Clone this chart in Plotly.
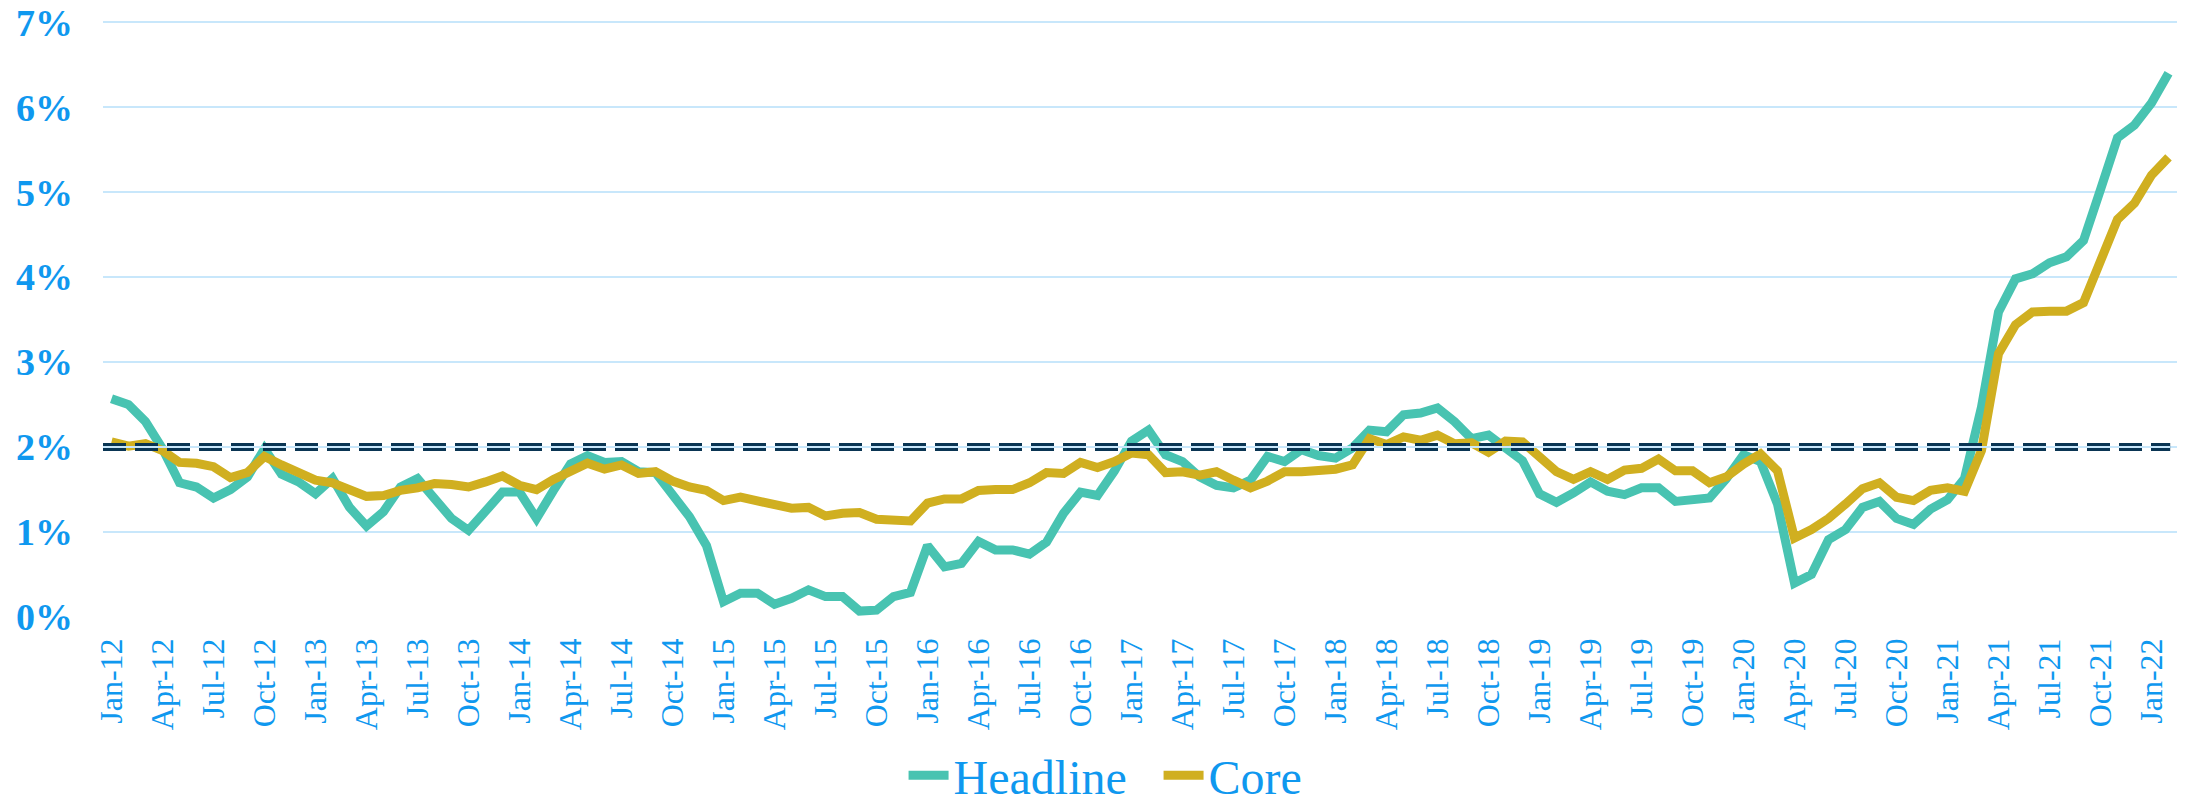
import pandas as pd
import plotly.graph_objects as go

months = [d.strftime("%b-%y") for d in pd.date_range("2012-01-01", "2022-02-01", freq="MS")]
tick_labels = months[::3]

headline = [2.57, 2.50, 2.30, 1.98, 1.58, 1.53, 1.40, 1.50, 1.65, 1.98, 1.68, 1.59,
            1.45, 1.63, 1.29, 1.07, 1.24, 1.53, 1.63, 1.41, 1.16, 1.02, 1.26, 1.47,
            1.47, 1.16, 1.49, 1.80, 1.90, 1.82, 1.83, 1.71, 1.70, 1.45, 1.18, 0.84,
            0.18, 0.28, 0.28, 0.15, 0.22, 0.32, 0.24, 0.24, 0.07, 0.08, 0.24, 0.29,
            0.84, 0.59, 0.63, 0.89, 0.79, 0.79, 0.74, 0.88, 1.22, 1.47, 1.43, 1.72,
            2.07, 2.20, 1.91, 1.83, 1.65, 1.55, 1.52, 1.61, 1.89, 1.83, 1.97, 1.90,
            1.87, 1.99, 2.20, 2.18, 2.38, 2.40, 2.46, 2.30, 2.10, 2.14, 2.00, 1.84,
            1.45, 1.35, 1.46, 1.59, 1.48, 1.44, 1.52, 1.52, 1.36, 1.39, 1.40, 1.63,
            1.91, 1.83, 1.33, 0.40, 0.50, 0.91, 1.03, 1.29, 1.36, 1.16, 1.09, 1.27,
            1.38, 1.63, 2.47, 3.59, 3.98, 4.04, 4.17, 4.24, 4.43, 5.03, 5.64, 5.79,
            6.05, 6.40]

core = [2.06, 2.01, 2.04, 1.96, 1.82, 1.81, 1.77, 1.64, 1.70, 1.89, 1.79, 1.70,
        1.61, 1.58, 1.50, 1.42, 1.43, 1.49, 1.52, 1.57, 1.56, 1.53, 1.59, 1.66,
        1.55, 1.50, 1.62, 1.73, 1.81, 1.74, 1.79, 1.69, 1.71, 1.60, 1.53, 1.49,
        1.37, 1.41, 1.37, 1.34, 1.28, 1.29, 1.19, 1.22, 1.23, 1.15, 1.15, 1.13,
        1.34, 1.39, 1.39, 1.49, 1.50, 1.50, 1.58, 1.70, 1.69, 1.82, 1.76, 1.83,
        1.93, 1.91, 1.70, 1.71, 1.67, 1.71, 1.61, 1.52, 1.60, 1.71, 1.71, 1.73,
        1.74, 1.79, 2.10, 2.03, 2.12, 2.08, 2.14, 2.04, 2.05, 1.94, 2.07, 2.06,
        1.87, 1.71, 1.62, 1.71, 1.62, 1.73, 1.75, 1.86, 1.72, 1.72, 1.58, 1.65,
        1.80, 1.92, 1.72, 0.93, 1.03, 1.16, 1.33, 1.51, 1.58, 1.41, 1.37, 1.49,
        1.52, 1.48, 1.96, 3.10, 3.44, 3.59, 3.60, 3.60, 3.70, 4.19, 4.68, 4.87,
        5.20, 5.41]

target = 2.0
y_ticks = [0, 1, 2, 3, 4, 5, 6, 7]

TEAL = "#48C3B1"
GOLD = "#D0AF20"
NAVY = "#0A3553"
GRID = "#C8E7FB"
BLUE = "#0F98EF"
FONT = "Liberation Serif, Times New Roman, serif"

n = len(months)
fig = go.Figure()

# 2% target line (double dashed look)
fig.add_trace(go.Scatter(x=[-0.5, n - 0.9], y=[target, target], mode="lines",
                         line=dict(color=NAVY, width=8, dash="23px,9px"),
                         showlegend=False, hoverinfo="skip", xaxis="x2"))
fig.add_trace(go.Scatter(x=[-0.5, n - 0.9], y=[target, target], mode="lines",
                         line=dict(color=GRID, width=2),
                         showlegend=False, hoverinfo="skip", xaxis="x2"))

fig.add_trace(go.Scatter(x=months, y=headline, mode="lines", name="Headline",
                         line=dict(color=TEAL, width=9)))
fig.add_trace(go.Scatter(x=months, y=core, mode="lines", name="Core",
                         line=dict(color=GOLD, width=9)))

# page body has an 8px default margin: figure is sized/margined to compensate
fig.update_layout(
    width=2180, height=791,
    margin=dict(l=95, r=11, t=13, b=182, autoexpand=False),
    paper_bgcolor="white", plot_bgcolor="white",
    font=dict(family=FONT, color=BLUE),
    xaxis=dict(type="category", categoryorder="array", categoryarray=months,
               range=[-0.5, n - 0.5], tickmode="array", tickvals=tick_labels,
               ticktext=tick_labels, tickangle=-90, showgrid=False, zeroline=False,
               showline=False, ticks="", ticklabelstandoff=14, automargin=False,
               ticklabeloverflow="allow",
               tickfont=dict(family=FONT, size=32, color=BLUE)),
    xaxis2=dict(overlaying="x", range=[-0.5, n - 0.5], visible=False),
    yaxis=dict(range=[0, 7.015], tickvals=y_ticks, ticktext=[f"{v}%" for v in y_ticks],
               showgrid=True, gridcolor=GRID, gridwidth=2, zeroline=False,
               showline=False, ticks="", ticklabelstandoff=29, automargin=False,
               ticklabeloverflow="allow",
               tickfont=dict(family=FONT, size=38, color=BLUE, weight="bold")),
    legend=dict(orientation="h", x=0.386, xanchor="left", y=-0.266, yanchor="middle",
                font=dict(family=FONT, size=48, color=BLUE), bgcolor="rgba(0,0,0,0)",
                itemwidth=40, entrywidth=200, entrywidthmode="pixels"),
    showlegend=True,
)

fig.write_html("out.html")
